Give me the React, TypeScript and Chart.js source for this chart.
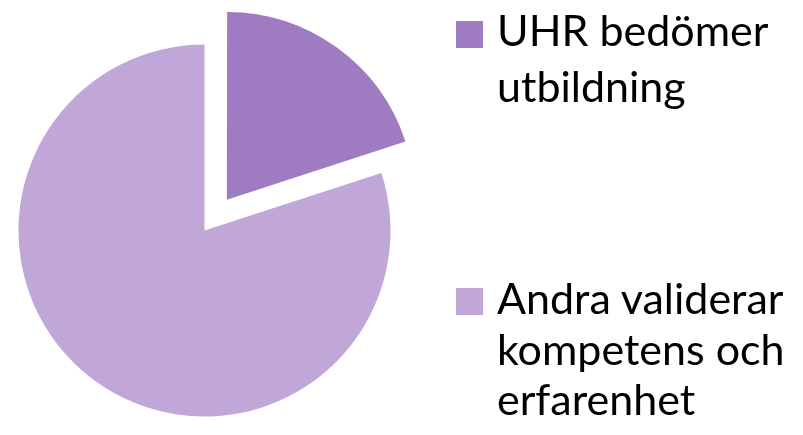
import React, { useEffect, useRef } from "react";
import { Chart, registerables } from "chart.js";

Chart.register(...registerables);

const categories = ["UHR bedömer utbildning", "Andra validerar kompetens och erfarenhet"];
const legendLines = [["UHR bedömer", "utbildning"], ["Andra validerar", "kompetens och", "erfarenhet"]];
const values = [20, 80];
const colors = ["#9F7BC1", "#C0A7D7"];

// Chart.js draws an arc's offset as offset/4 * (1 + fix); ~152 gives ~40px of explosion
const explode = [152, 0];

const FONT_SIZE = 43;
const LINE_H = 50;
const BASE_IN_LINE = 41.6;
const legendBaselines = [
  [46.7, 102.5],
  [315, 365.5, 416],
];
const squareTops = [21, 288];

export default function App() {
  const ref = useRef<HTMLCanvasElement | null>(null);
  useEffect(() => {
    if (!ref.current) return;
    const chart = new Chart(ref.current, {
      type: "pie",
      data: {
        labels: categories,
        datasets: [
          {
            data: values,
            backgroundColor: colors,
            borderWidth: 0,
            offset: explode,
          },
        ],
      },
      options: {
        responsive: false,
        animation: false,
        radius: 186,
        layout: { padding: { left: 0, right: 394, top: 26, bottom: 0 } },
        plugins: { legend: { display: false }, tooltip: { enabled: false } },
      } as any,
    });
    return () => chart.destroy();
  }, []);

  return (
    <div style={{ position: "fixed", left: 0, top: 0, width: 803, height: 435, background: "#fff", overflow: "hidden" }}>
      <canvas ref={ref} width={803} height={435} style={{ position: "absolute", left: 0, top: 0 }} />
      {legendLines.map((lines, i) => (
        <div key={i}>
          <div
            style={{
              position: "absolute",
              left: 456,
              top: squareTops[i],
              width: 27,
              height: 27,
              background: colors[i],
            }}
          />
          {lines.map((l, j) => (
            <div
              key={j}
              style={{
                position: "absolute",
                left: 497,
                top: legendBaselines[i][j] - BASE_IN_LINE,
                fontFamily: "Lato, 'Open Sans', sans-serif",
                fontSize: FONT_SIZE,
                lineHeight: LINE_H + "px",
                color: "#000",
                whiteSpace: "nowrap",
              }}
            >
              {l}
            </div>
          ))}
        </div>
      ))}
    </div>
  );
}
